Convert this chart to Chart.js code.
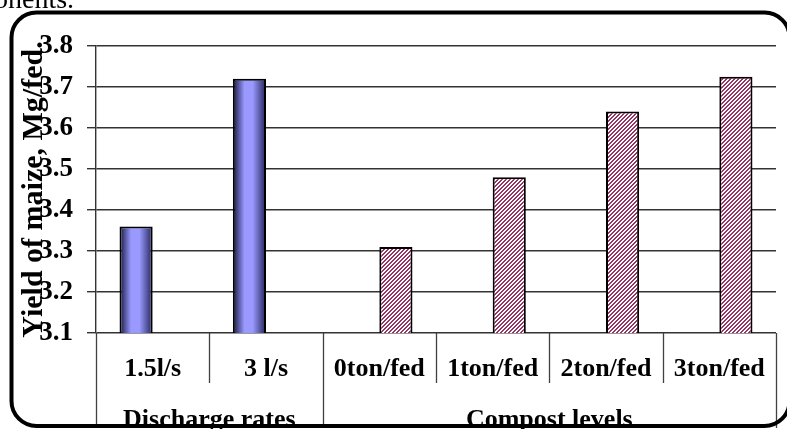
<!DOCTYPE html>
<html>
<head>
<meta charset="utf-8">
<script src="https://cdn.jsdelivr.net/npm/chart.js@4/dist/chart.umd.min.js"></script>
<style>
  body { margin: 0; background: #fff; }
  #wrap { width: 787px; height: 429px; position: relative; }
</style>
</head>
<body>
<div id="wrap"><canvas id="yieldChart"></canvas></div>
<script>
// maize yield by treatment
const categories = ['1.5l/s', '3 l/s', '0ton/fed', '1ton/fed', '2ton/fed', '3ton/fed'];
const dischargeYield = [3.36, 3.72, null, null, null, null];
const compostYield = [null, null, 3.31, 3.48, 3.64, 3.725];
const groupNames = ['Discharge rates', 'Compost levels'];
const groupSizes = [2, 4];
const yMin = 3.1, yMax = 3.8, yStep = 0.1;
const yTitle = 'Yield of maize, Mg/fed.';

const serif = "'Liberation Serif', 'Times New Roman', serif";

// diagonal stripe fill for the compost bars
function makeHatch() {
    const c = document.createElement('canvas');
    c.width = 8; c.height = 8;
    const g = c.getContext('2d');
    const img = g.createImageData(8, 8);
    for (let y = 0; y < 8; y++) {
        for (let x = 0; x < 8; x++) {
            const i = (y * 8 + x) * 4;
            const on = ((x + y) % 4) < 2;
            img.data[i] = on ? 0x99 : 255;
            img.data[i + 1] = on ? 0x33 : 255;
            img.data[i + 2] = on ? 0x66 : 255;
            img.data[i + 3] = 255;
        }
    }
    g.putImageData(img, 0, 0);
    return c;
}

const ctx = document.getElementById('yieldChart').getContext('2d');
const hatch = ctx.createPattern(makeHatch(), 'repeat');

// shaded cylinder look for the discharge bars
const barShading = {
    id: 'barShading',
    beforeDatasetsDraw(chart) {
        const meta = chart.getDatasetMeta(0);
        meta.data.forEach((bar, i) => {
            if (dischargeYield[i] == null) return;
            const x0 = bar.x - bar.width / 2, x1 = bar.x + bar.width / 2;
            const grad = chart.ctx.createLinearGradient(x0, 0, x1, 0);
            grad.addColorStop(0, '#14143c');
            grad.addColorStop(0.35, '#9999ff');
            grad.addColorStop(0.6, '#9999ff');
            grad.addColorStop(1, '#24245a');
            bar.options.backgroundColor = grad;
        });
    }
};

// category separators, group labels, axis title and outer frame
const decorations = {
    id: 'decorations',
    afterDraw(chart) {
        const c = chart.ctx;
        const xs = chart.scales.x;
        const area = chart.chartArea;
        const half = (xs.getPixelForValue(1) - xs.getPixelForValue(0)) / 2;
        const edge = i => xs.getPixelForValue(i) - half;

        c.save();
        c.strokeStyle = '#404040';
        c.lineWidth = 1.3;
        const bounds = [0];
        groupSizes.reduce((acc, n) => { bounds.push(acc + n); return acc + n; }, 0);
        for (let i = 0; i <= categories.length; i++) {
            const x = Math.round(edge(i)) + 0.5;
            const long = bounds.includes(i);
            c.beginPath();
            c.moveTo(x, area.bottom);
            c.lineTo(x, long ? 428 : area.bottom + 50);
            c.stroke();
        }

        // group labels under the categories
        c.fillStyle = '#000';
        c.font = 'bold 26px ' + serif;
        c.textAlign = 'center';
        c.textBaseline = 'alphabetic';
        groupNames.forEach((name, g) => {
            const mid = (edge(bounds[g]) + edge(bounds[g + 1])) / 2;
            c.fillText(name, mid, 427);
        });

        // rotated axis title
        c.save();
        c.translate(34, (area.top + area.bottom) / 2);
        c.rotate(-Math.PI / 2);
        c.font = 'bold 30px ' + serif;
        c.textBaseline = 'middle';
        c.fillText(yTitle, 0, 0);
        c.restore();

        // text of the page above the figure
        c.textAlign = 'left';
        c.font = '28px ' + serif;
        c.fillText('onents.', -6, 8);

        // rounded frame
        c.strokeStyle = '#000';
        c.lineWidth = 4;
        c.beginPath();
        c.roundRect(11.5, 12.5, 778, 413.5, 25);
        c.stroke();
        c.restore();
    }
};

new Chart(ctx, {
    type: 'bar',
    data: {
        labels: categories,
        datasets: [{
            data: dischargeYield,
            // scriptable so every bar keeps its own options object
            backgroundColor: () => '#9999ff',
            borderColor: '#000',
            borderWidth: 2
        }, {
            data: compostYield,
            backgroundColor: hatch,
            borderColor: '#000',
            borderWidth: 2
        }]
    },
    options: {
        responsive: true,
        maintainAspectRatio: false,
        animation: false,
        events: [],
        categoryPercentage: 0.585,
        barPercentage: 1,
        layout: { padding: { top: 46, right: 11, bottom: 0, left: 0 } },
        plugins: {
            legend: { display: false },
            tooltip: { enabled: false }
        },
        scales: {
            x: {
                grid: { display: false },
                border: { display: false },
                ticks: {
                    color: '#000',
                    font: { family: serif, size: 26, weight: 'bold' },
                    padding: 13,
                    maxRotation: 0,
                    autoSkip: false
                },
                afterFit(scale) { scale.height = 96; }
            },
            y: {
                min: yMin,
                max: yMax,
                grid: { color: '#333', lineWidth: 1.4, tickLength: 9 },
                border: { color: '#333', width: 1.4 },
                ticks: {
                    stepSize: yStep,
                    color: '#000',
                    padding: 14,
                    font: { family: serif, size: 27, weight: 'bold' },
                    callback: v => v.toFixed(1)
                },
                afterFit(scale) { scale.width = 96; }
            }
        }
    },
    plugins: [barShading, decorations]
});
</script>
</body>
</html>
